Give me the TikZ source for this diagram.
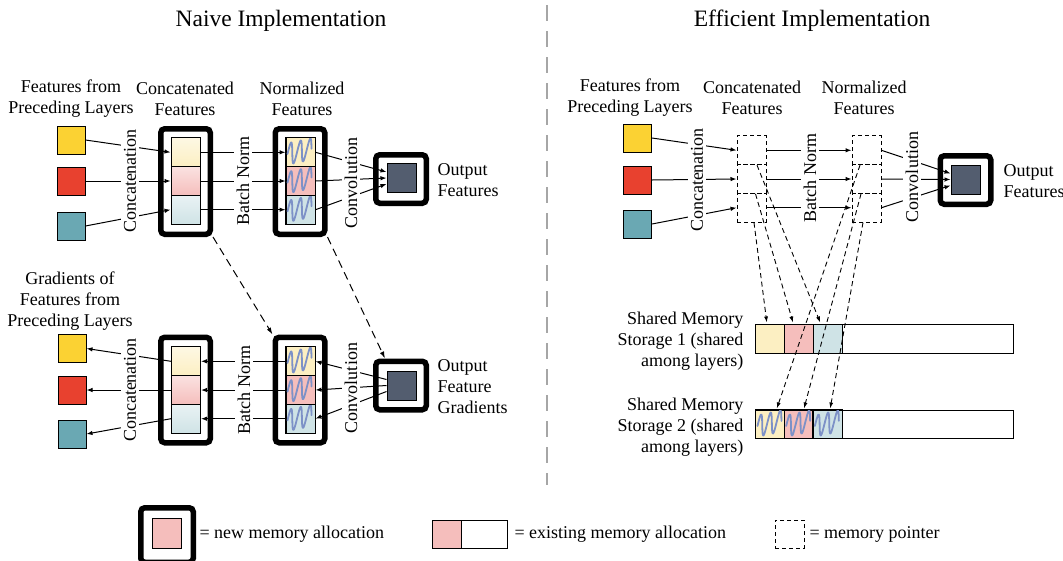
\documentclass[tikz,border=0pt]{standalone}
\usepackage{fontspec}
\setmainfont{Liberation Serif}
\usetikzlibrary{calc,arrows.meta}

\definecolor{fy}{HTML}{FBD233}
\definecolor{fr}{HTML}{E8412F}
\definecolor{ft}{HTML}{6AA8B3}
\definecolor{ly}{HTML}{FCEFC2}
\definecolor{lr}{HTML}{F5BEBC}
\definecolor{lt}{HTML}{CFE3E6}
\definecolor{outc}{HTML}{535D6F}
\definecolor{squigc}{HTML}{7D91C7}

\tikzset{
  every node/.style={font=\fontsize{18}{21}\selectfont},
  feat/.style={draw, line width=1pt, fill=#1, minimum width=28pt, minimum height=28pt, inner sep=0pt},
  cellbox/.style={draw, line width=1pt, minimum width=29pt, minimum height=28.7pt, inner sep=0pt, fill=#1},
  gcell/.style={draw, line width=1pt, minimum width=29pt, minimum height=28.7pt, inner sep=0pt, top color=#1!45!white, bottom color=#1},
  ptrcell/.style={draw, line width=1pt, dash pattern=on 4pt off 3pt, minimum width=29pt, minimum height=28.7pt, inner sep=0pt},
  alloc/.style={draw, line width=5.5pt, rounded corners=4pt, minimum width=49.5pt, minimum height=105.5pt, inner sep=0pt},
  allocsq/.style={alloc, minimum width=50.5pt, minimum height=48.5pt},
  outsq/.style={draw, line width=1pt, fill=outc, minimum width=29pt, minimum height=29pt, inner sep=0pt},
  op/.style={rotate=90, fill=white, inner sep=3pt},
  flow/.style={line width=1pt, -{Latex[length=6pt,width=4.5pt]}},
  ptr/.style={line width=0.9pt, dash pattern=on 5pt off 3.5pt, -{Latex[length=6pt,width=4pt]}},
  longptr/.style={line width=1pt, dash pattern=on 8pt off 5pt, -{Latex[length=7pt,width=4.5pt]}},
  squig/.style={draw=squigc, line width=1.8pt, line cap=round, line join=round},
  title/.style={font=\fontsize{23.5}{28}\selectfont},
}

% wavy hatching inside a normalized cell: rounded strokes leaning to the right
\newcommand\wavyfill[1]{%
  \begin{scope}
    \clip (#1.north west) rectangle (#1.south east);
    \begin{scope}[shift={(#1.north west)}]
      \draw[squig] plot[domain=0:1,samples=80,smooth]
        ({2+24*\x+1.3*sin(900*\x)},{16.5-5*\x-11*sin(900*\x)});
    \end{scope}
  \end{scope}}

\begin{document}
\begin{tikzpicture}[x=1pt,y=-1pt]
\useasboundingbox (0,0) rectangle (1063,560);

% divider and titles
\draw[gray!70, line width=1.2pt, dash pattern=on 16pt off 10pt] (547,5) -- (547,485);
\node[title] (tn) at (281,21) {Naive Implementation};
\node[title] (te) at (812,21) {Efficient Implementation};

% ---------------- naive, forward pass ----------------
\node[align=center] (hf1) at (71,99) {Features from\\Preceding Layers};
\node[align=center] (hc1) at (185,99) {Concatenated\\Features};
\node[align=center] (hn1) at (302,99) {Normalized\\Features};

\node[feat=fy] (s1) at (71,140) {};
\node[feat=fr] (s2) at (71,181) {};
\node[feat=ft] (s3) at (71,226) {};

\node[alloc] (ca1) at (185.5,181.5) {};
\node[gcell=ly] (c1) at (185.5,152.3) {};
\node[gcell=lr] (c2) at (185.5,181) {};
\node[gcell=lt] (c3) at (185.5,209.7) {};

\node[alloc] (na1) at (300,181.5) {};
\node[cellbox=ly] (n1) at (300.5,152.3) {};
\node[cellbox=lr] (n2) at (300.5,181) {};
\node[cellbox=lt] (n3) at (300.5,209.7) {};
\wavyfill{n1}\wavyfill{n2}\wavyfill{n3}
\draw[line width=1pt] (n1.north west) rectangle (n3.south east);
\draw[line width=1pt] (n2.north west) -- (n2.north east) (n2.south west) -- (n2.south east);

\node[allocsq] (oa1) at (401,179) {};
\node[outsq] (o1) at (401.5,178) {};
\node[align=left, anchor=west] (ho1) at (434,180) {Output\\Features};

\draw[flow] (s1.east) -- (c1.west);
\draw[flow] (s2.east) -- (c2.west);
\draw[flow] (s3.east) -- (c3.west);
\draw[flow] (c1.east) -- (n1.west);
\draw[flow] (c2.east) -- (n2.west);
\draw[flow] (c3.east) -- (n3.west);
\draw[flow] (n1.east) -- ($(o1.west)+(0,-6)$);
\draw[flow] (n2.east) -- (o1.west);
\draw[flow] (n3.east) -- ($(o1.west)+(0,6)$);

\node[op] (l1) at (130,181) {Concatenation};
\node[op] (l2) at (243,181) {Batch Norm};
\node[op] (l3) at (351,183) {Convolution};

% ---------------- naive, backward pass ----------------
\node[align=center] (hg) at (70,301) {Gradients of\\Features from\\Preceding Layers};

\node[feat=fy] (t1) at (72,348.5) {};
\node[feat=fr] (t2) at (72,390) {};
\node[feat=ft] (t3) at (72,434) {};

\node[alloc] (ca2) at (185.5,390) {};
\node[gcell=ly] (d1) at (186,361.3) {};
\node[gcell=lr] (d2) at (186,390) {};
\node[gcell=lt] (d3) at (186,418.7) {};

\node[alloc] (na2) at (300,390) {};
\node[cellbox=ly] (m1) at (300.5,361.3) {};
\node[cellbox=lr] (m2) at (300.5,390) {};
\node[cellbox=lt] (m3) at (300.5,418.7) {};
\wavyfill{m1}\wavyfill{m2}\wavyfill{m3}
\draw[line width=1pt] (m1.north west) rectangle (m3.south east);
\draw[line width=1pt] (m2.north west) -- (m2.north east) (m2.south west) -- (m2.south east);

\node[allocsq] (oa2) at (401,385.5) {};
\node[outsq] (o2) at (401.5,385.5) {};
\node[align=left, anchor=west] (ho2) at (434,387) {Output\\Feature\\Gradients};

\draw[flow] ($(o2.west)+(0,-6)$) -- (m1.east);
\draw[flow] (o2.west) -- (m2.east);
\draw[flow] ($(o2.west)+(0,6)$) -- (m3.east);
\draw[flow] (m1.west) -- (d1.east);
\draw[flow] (m2.west) -- (d2.east);
\draw[flow] (m3.west) -- (d3.east);
\draw[flow] (d1.west) -- (t1.east);
\draw[flow] (d2.west) -- (t2.east);
\draw[flow] (d3.west) -- (t3.east);

\node[op] (l4) at (130,390) {Concatenation};
\node[op] (l5) at (244,390) {Batch Norm};
\node[op] (l6) at (351,388) {Convolution};

\draw[longptr] (ca1.south east) -- (na2.north west);
\draw[longptr] (na1.south east) -- ($(oa2.north west)+(12,0)$);

% ---------------- efficient implementation ----------------
\node[align=center] (hf2) at (630,98) {Features from\\Preceding Layers};
\node[align=center] (hc2) at (752,98) {Concatenated\\Features};
\node[align=center] (hn2) at (864,98) {Normalized\\Features};

\node[feat=fy] (u1) at (637.5,138) {};
\node[feat=fr] (u2) at (637.5,180) {};
\node[feat=ft] (u3) at (637.5,224) {};

\node[ptrcell] (ec1) at (751.5,150.3) {};
\node[ptrcell] (ec2) at (751.5,179) {};
\node[ptrcell] (ec3) at (751.5,207.7) {};
\node[ptrcell] (en1) at (866.5,150.3) {};
\node[ptrcell] (en2) at (866.5,179) {};
\node[ptrcell] (en3) at (866.5,207.7) {};

\node[allocsq] (oa3) at (965.5,180) {};
\node[outsq] (o3) at (965.5,179.5) {};
\node[align=left, anchor=west] (ho3) at (1000,181) {Output\\Features};

\draw[flow] (u1.east) -- (ec1.west);
\draw[flow] (u2.east) -- (ec2.west);
\draw[flow] (u3.east) -- (ec3.west);
\draw[flow] (ec1.east) -- (en1.west);
\draw[flow] (ec2.east) -- (en2.west);
\draw[flow] (ec3.east) -- (en3.west);
\draw[flow] (en1.east) -- ($(o3.west)+(0,-6)$);
\draw[flow] (en2.east) -- (o3.west);
\draw[flow] (en3.east) -- ($(o3.west)+(0,6)$);

\node[op] (l7) at (697,180) {Concatenation};
\node[op] (l8) at (810,178) {Batch Norm};
\node[op] (l9) at (912,177) {Convolution};

% shared memory storages
\node[align=right, anchor=east] (hm1) at (747,341.5) {Shared Memory\\Storage 1 (shared\\among layers)};
\node[align=right, anchor=east] (hm2) at (747,427) {Shared Memory\\Storage 2 (shared\\among layers)};

\node[draw, line width=1pt, minimum width=257pt, minimum height=29pt, inner sep=0pt] (st1) at (884.5,338.5) {};
\node[cellbox=ly, minimum width=28.7pt, minimum height=29pt] (a1) at (770.3,338.5) {};
\node[cellbox=lr, minimum width=28.7pt, minimum height=29pt] (a2) at (799,338.5) {};
\node[cellbox=lt, minimum width=28.7pt, minimum height=29pt] (a3) at (827.7,338.5) {};

\node[draw, line width=1pt, minimum width=257pt, minimum height=28pt, inner sep=0pt] (st2) at (884.5,424) {};
\node[cellbox=ly, minimum width=28.7pt, minimum height=28pt] (b1) at (770.3,424) {};
\node[cellbox=lr, minimum width=28.7pt, minimum height=28pt] (b2) at (799,424) {};
\node[cellbox=lt, minimum width=28.7pt, minimum height=28pt] (b3) at (827.7,424) {};
\wavyfill{b1}\wavyfill{b2}\wavyfill{b3}
\draw[line width=1pt] (b1.north west) rectangle (b3.south east);
\draw[line width=1pt] (b2.north west) -- (b2.south west) (b3.north west) -- (b3.south west);

% memory pointers
\coordinate (p1) at ($(ec1.south)+(5.5,0)$);
\coordinate (p2) at ($(ec2.south)+(4,0)$);
\coordinate (p3) at ($(ec3.south)+(2.5,0)$);
\coordinate (q1) at ($(en1.south)+(-6.5,0)$);
\coordinate (q2) at ($(en2.south)+(-5.5,0)$);
\coordinate (q3) at ($(en3.south)+(-3.5,0)$);
\draw[ptr] (p1) -- ($(a3.north)+(-7.5,-1)$);
\draw[ptr] (p2) -- ($(a2.north)+(-6,-1)$);
\draw[ptr] (p3) -- ($(a1.north)+(-3.5,-1)$);
\draw[ptr] (q1) -- ($(b1.north)+(6.5,-1)$);
\draw[ptr] (q2) -- ($(b2.north)+(5,-1)$);
\draw[ptr] (q3) -- ($(b3.north)+(2.5,-1)$);

% ---------------- legend ----------------
\node[alloc, minimum width=52.5pt, minimum height=54.5pt] (ka) at (167,535) {};
\node[cellbox=lr, minimum height=30pt] (kb) at (166.5,533) {};
\node[anchor=west] (kt1) at (196,534) {= new memory allocation};

\node[draw, line width=1pt, minimum width=75pt, minimum height=28pt, inner sep=0pt] (kc) at (469.5,534) {};
\node[cellbox=lr, minimum height=28pt] (kd) at (446.5,534) {};
\node[anchor=west] (kt2) at (511,534) {= existing memory allocation};

\node[ptrcell, minimum height=28pt] (ke) at (789.5,534) {};
\node[anchor=west] (kt3) at (806,534) {= memory pointer};
\end{tikzpicture}
\end{document}
